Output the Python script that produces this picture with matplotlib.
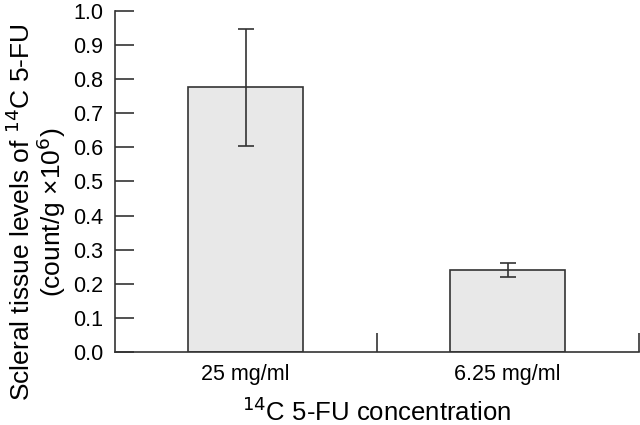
import matplotlib
matplotlib.use("Agg")
import matplotlib.pyplot as plt

categories = ["25 mg/ml", "6.25 mg/ml"]
means = [0.776, 0.241]
errors = [0.172, 0.020]
yticks = [0.0, 0.1, 0.2, 0.3, 0.4, 0.5, 0.6, 0.7, 0.8, 0.9, 1.0]

plt.rcParams['font.family'] = ['Liberation Sans', 'DejaVu Sans']

fig = plt.figure(figsize=(6.4, 4.25), dpi=100)
ax = fig.add_axes([0.179, 0.172, 0.819, 0.802])

ec = "#333333"
x = list(range(len(categories)))
ax.bar(x, means, width=0.44, color="#e8e8e8", edgecolor=ec, linewidth=1.2, zorder=2)
ax.errorbar(x, means, yerr=errors, fmt="none", ecolor=ec, elinewidth=1.2,
            capsize=6, capthick=1.2, zorder=3)

ax.set_xlim(-0.5, 1.5)
ax.set_ylim(0, 1.0)

ax.spines['top'].set_visible(False)
ax.spines['right'].set_visible(False)
for s in ('left', 'bottom'):
    ax.spines[s].set_color(ec)
    ax.spines[s].set_linewidth(1.2)

ax.set_yticks(yticks)
ax.set_yticklabels([f"{v:.1f}" for v in yticks], fontsize=15.5)
ax.tick_params(axis='y', direction='in', length=13.5, width=1.2, color=ec, pad=8)

# category labels (no tick marks) + boundary ticks
ax.set_xticks(x)
ax.set_xticklabels(categories, fontsize=15.5)
ax.tick_params(axis='x', which='major', length=0, pad=9)
ax.set_xticks([0.5, 1.5], minor=True)
ax.tick_params(axis='x', which='minor', direction='in', length=13.5, width=1.2, color=ec)

ax.set_xlabel("$^{14}$C 5-FU concentration", fontsize=18.5, labelpad=9)
ax.set_ylabel("Scleral tissue levels of $^{14}$C 5-FU\n(count/g \u00d710$^{6}$)",
              fontsize=19, linespacing=1.0)
ax.yaxis.set_label_coords(-0.088, 0.41)

fig.savefig("out.png", dpi=100)
